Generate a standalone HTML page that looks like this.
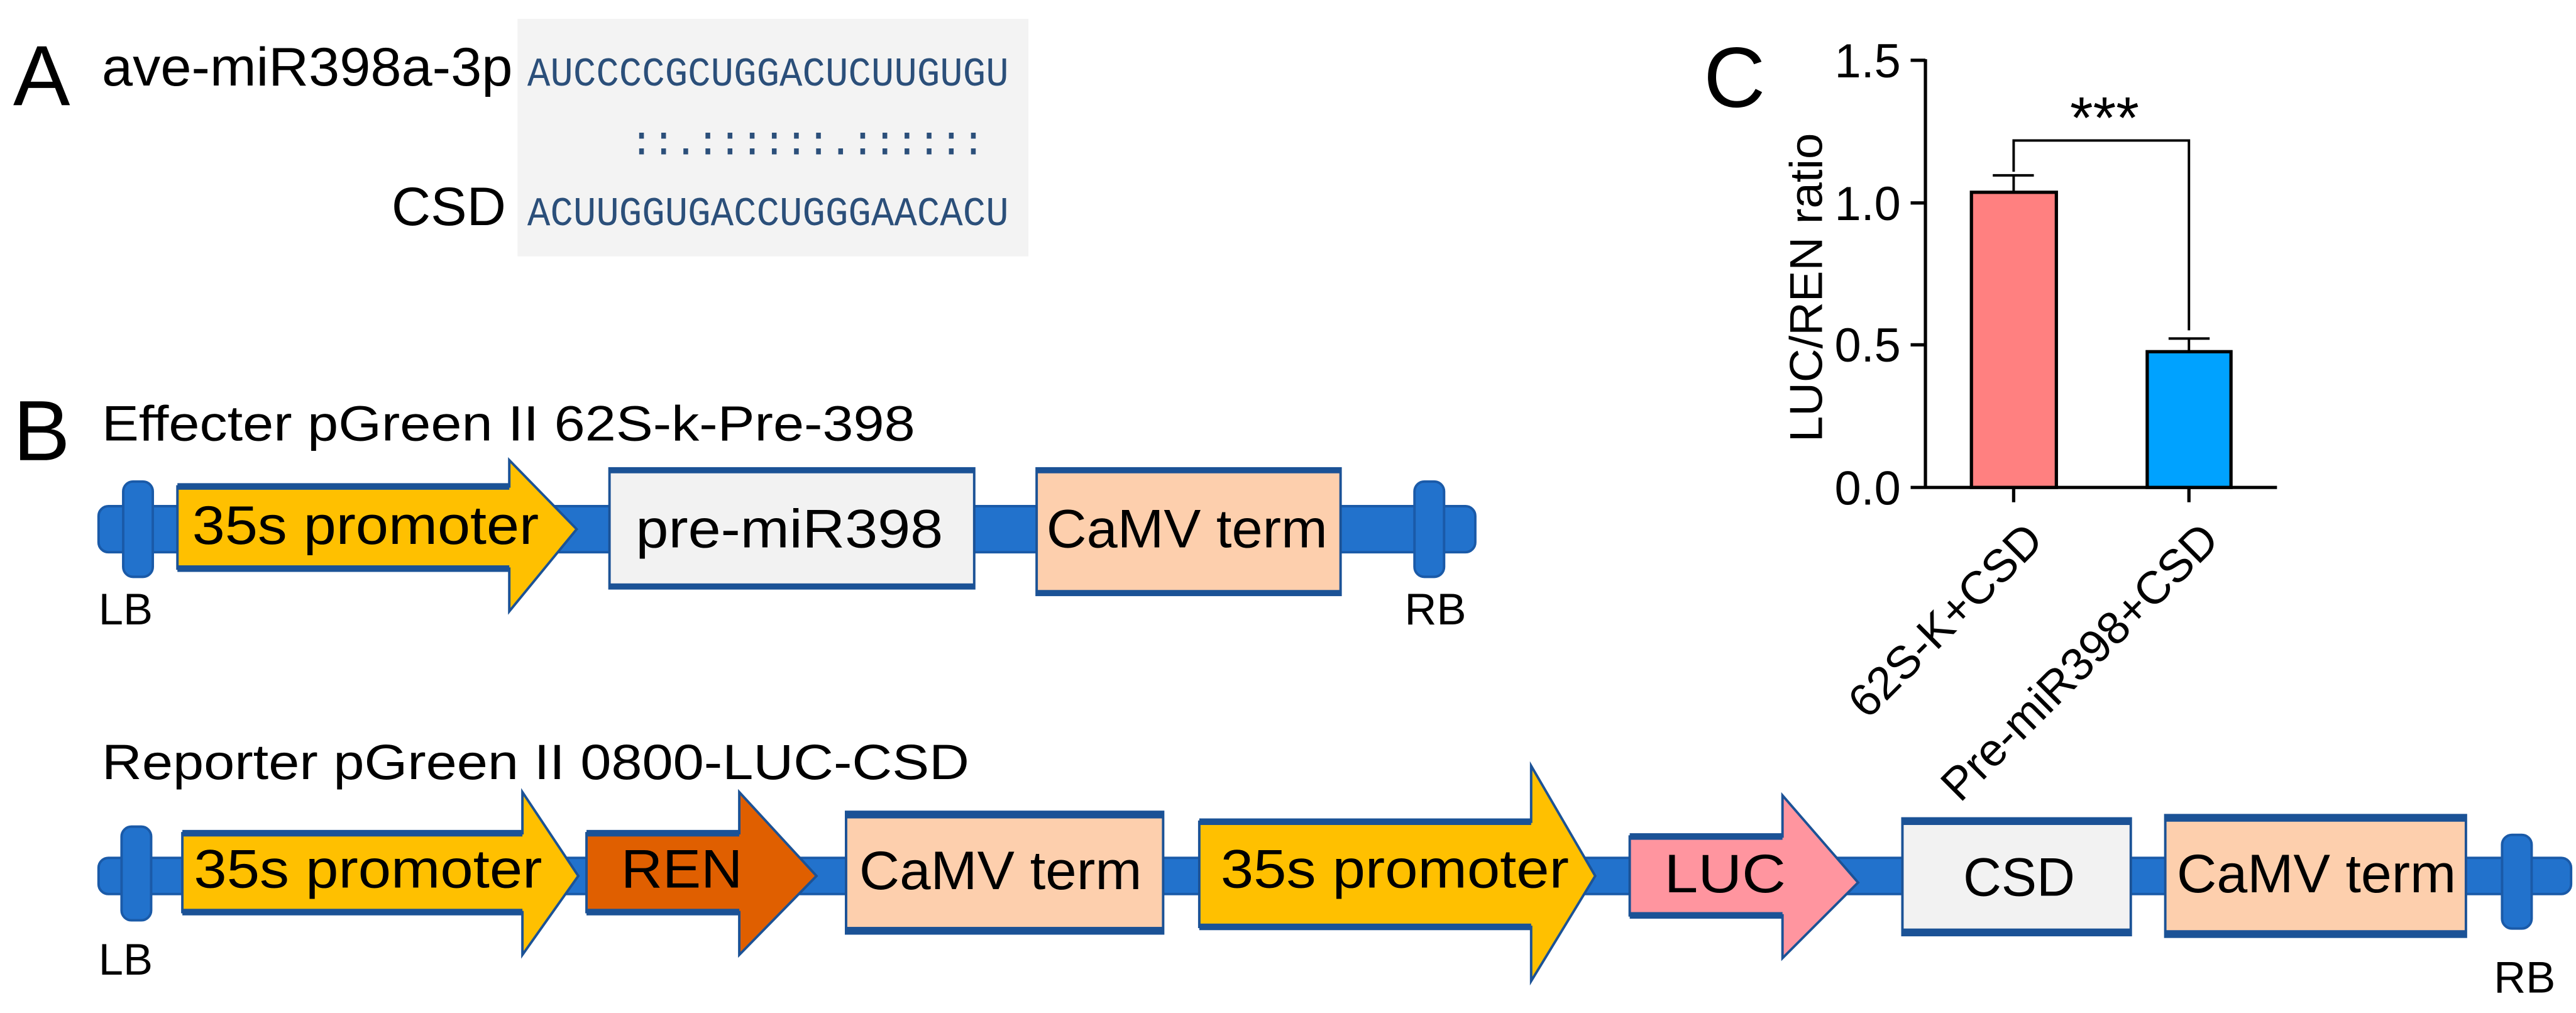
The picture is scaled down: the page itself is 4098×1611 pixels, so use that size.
<!DOCTYPE html>
<html><head><meta charset="utf-8"><style>
html,body{margin:0;padding:0;background:#fff;}
svg{display:block;}
text{font-family:"Liberation Sans",sans-serif;fill:#000;}
.seq{font-family:"Liberation Mono",monospace;font-size:25px;fill:#2b4f7a;}
</style></head><body>
<svg width="4098" height="1611" viewBox="0 0 1568 616.4" preserveAspectRatio="none" xmlns="http://www.w3.org/2000/svg">
<!-- Panel A -->
<text x="8" y="64" font-size="52">A</text>
<text x="62" y="52" font-size="33" textLength="250" lengthAdjust="spacingAndGlyphs">ave-miR398a-3p</text>
<rect x="315" y="11.5" width="311" height="144.5" fill="#f3f3f3"/>
<text class="seq" x="321" y="52" textLength="293" lengthAdjust="spacingAndGlyphs">AUCCCCGCUGGACUCUUGUGU</text>
<text class="seq" x="383" y="94" textLength="217" lengthAdjust="spacing">::.::::::.::::::</text>
<text class="seq" x="321" y="137" textLength="293" lengthAdjust="spacingAndGlyphs">ACUUGGUGACCUGGGAACACU</text>
<text x="308" y="137" font-size="33" text-anchor="end">CSD</text>

<!-- Panel B -->
<text x="8" y="280" font-size="52">B</text>
<text x="62" y="268" font-size="30" textLength="495" lengthAdjust="spacingAndGlyphs">Effecter pGreen II 62S-k-Pre-398</text>

<!-- Effector track -->
<rect x="60" y="308" width="838" height="28" rx="6" fill="#2272cc" stroke="#1a5aa8" stroke-width="1.5"/>
<rect x="75" y="293" width="18" height="58" rx="6" fill="#2272cc" stroke="#1a5aa8" stroke-width="1.5"/>
<rect x="861" y="293" width="18" height="58" rx="6" fill="#2272cc" stroke="#1a5aa8" stroke-width="1.5"/>
<polygon points="108,296 310,296 310,280 351,322 310,372 310,346 108,346" fill="#ffc000" stroke="#1b5296" stroke-width="1.5"/>
<rect x="108" y="294" width="202" height="4" fill="#1b5296"/><rect x="108" y="344" width="202" height="4" fill="#1b5296"/>
<text x="117" y="331" font-size="33" textLength="211" lengthAdjust="spacingAndGlyphs">35s promoter</text>
<rect x="371" y="285" width="222" height="73" fill="#f2f2f2" stroke="#1b5296" stroke-width="1.5"/>
<rect x="371" y="285" width="222" height="3" fill="#1b5296"/><rect x="371" y="355" width="222" height="3" fill="#1b5296"/>
<text x="387" y="333" font-size="33" textLength="187" lengthAdjust="spacingAndGlyphs">pre-miR398</text>
<rect x="631" y="285" width="185" height="77" fill="#fdcfad" stroke="#1b5296" stroke-width="1.5"/>
<rect x="631" y="285" width="185" height="3" fill="#1b5296"/><rect x="631" y="359" width="185" height="3" fill="#1b5296"/>
<text x="637" y="333" font-size="33" textLength="171" lengthAdjust="spacingAndGlyphs">CaMV term</text>
<text x="60" y="380" font-size="27">LB</text>
<text x="855" y="380" font-size="27">RB</text>

<!-- Reporter -->
<text x="62" y="474" font-size="30" textLength="528" lengthAdjust="spacingAndGlyphs">Reporter pGreen II 0800-LUC-CSD</text>
<rect x="60" y="522" width="1505" height="22" rx="6" fill="#2272cc" stroke="#1a5aa8" stroke-width="1.5"/>
<rect x="74" y="503" width="18" height="57" rx="6" fill="#2272cc" stroke="#1a5aa8" stroke-width="1.5"/>
<rect x="1523" y="508" width="18" height="57" rx="6" fill="#2272cc" stroke="#1a5aa8" stroke-width="1.5"/>
<polygon points="111,507 318,507 318,482 352,533 318,581 318,555 111,555" fill="#ffc000" stroke="#1b5296" stroke-width="1.5"/>
<rect x="111" y="505" width="207" height="4" fill="#1b5296"/><rect x="111" y="553" width="207" height="4" fill="#1b5296"/>
<text x="118" y="540" font-size="33" textLength="212" lengthAdjust="spacingAndGlyphs">35s promoter</text>
<polygon points="357,507 450,507 450,482 497,533 450,581 450,555 357,555" fill="#e05f00" stroke="#1b5296" stroke-width="1.5"/>
<rect x="357" y="505" width="93" height="4" fill="#1b5296"/><rect x="357" y="553" width="93" height="4" fill="#1b5296"/>
<text x="378" y="540" font-size="33" textLength="74" lengthAdjust="spacingAndGlyphs">REN</text>
<rect x="515" y="494" width="193" height="74" fill="#fdcfad" stroke="#1b5296" stroke-width="1.5"/>
<rect x="515" y="494" width="193" height="4" fill="#1b5296"/><rect x="515" y="564" width="193" height="4" fill="#1b5296"/>
<text x="523" y="541" font-size="33" textLength="172" lengthAdjust="spacingAndGlyphs">CaMV term</text>
<polygon points="730,500 932,500 932,466 971,533 932,597 932,564 730,564" fill="#ffc000" stroke="#1b5296" stroke-width="1.5"/>
<rect x="730" y="498" width="202" height="4" fill="#1b5296"/><rect x="730" y="562" width="202" height="4" fill="#1b5296"/>
<text x="743" y="540" font-size="33" textLength="212" lengthAdjust="spacingAndGlyphs">35s promoter</text>
<polygon points="992,509 1085,509 1085,484 1131,537 1085,583 1085,557 992,557" fill="#ff959f" stroke="#1b5296" stroke-width="1.5"/>
<rect x="992" y="507" width="93" height="4" fill="#1b5296"/><rect x="992" y="555" width="93" height="4" fill="#1b5296"/>
<text x="1013" y="543" font-size="33" textLength="74" lengthAdjust="spacingAndGlyphs">LUC</text>
<rect x="1158" y="498" width="139" height="71" fill="#f2f2f2" stroke="#1b5296" stroke-width="1.5"/>
<rect x="1158" y="498" width="139" height="4" fill="#1b5296"/><rect x="1158" y="565" width="139" height="4" fill="#1b5296"/>
<text x="1195" y="545" font-size="33" textLength="68" lengthAdjust="spacingAndGlyphs">CSD</text>
<rect x="1318" y="496" width="183" height="74" fill="#fdcfad" stroke="#1b5296" stroke-width="1.5"/>
<rect x="1318" y="496" width="183" height="4" fill="#1b5296"/><rect x="1318" y="566" width="183" height="4" fill="#1b5296"/>
<text x="1325" y="543" font-size="33" textLength="170" lengthAdjust="spacingAndGlyphs">CaMV term</text>
<text x="60" y="593" font-size="27">LB</text>
<text x="1518" y="604" font-size="27">RB</text>

<!-- Panel C -->
<text x="1037" y="65" font-size="52">C</text>
<g stroke="#000" stroke-width="2" fill="none">
<line x1="1172" y1="36" x2="1172" y2="296.6"/>
<line x1="1163" y1="296.6" x2="1386" y2="296.6"/>
<line x1="1163" y1="36.7" x2="1172" y2="36.7"/>
<line x1="1163" y1="123.5" x2="1172" y2="123.5"/>
<line x1="1163" y1="209.8" x2="1172" y2="209.8"/>
<line x1="1225.7" y1="296" x2="1225.7" y2="305.6"/>
<line x1="1332.4" y1="296" x2="1332.4" y2="305.6"/>
</g>
<rect x="1200" y="117" width="51.7" height="179.6" fill="#ff8080" stroke="#000" stroke-width="2"/>
<rect x="1307" y="214" width="51" height="82.6" fill="#00a2ff" stroke="#000" stroke-width="2"/>
<g stroke="#000" stroke-width="1.5" fill="none">
<line x1="1225.7" y1="117" x2="1225.7" y2="106.7"/>
<line x1="1213" y1="106.7" x2="1238" y2="106.7"/>
<line x1="1332.4" y1="214" x2="1332.4" y2="206"/>
<line x1="1320" y1="206" x2="1345" y2="206"/>
<polyline points="1225.7,104.5 1225.7,85.5 1332.4,85.5 1332.4,201"/>
</g>
<text x="1281" y="84" font-size="36" text-anchor="middle">***</text>
<g font-size="29" text-anchor="end">
<text x="1157" y="47">1.5</text>
<text x="1157" y="134">1.0</text>
<text x="1157" y="220">0.5</text>
<text x="1157" y="307">0.0</text>
</g>
<text transform="translate(1109,175) rotate(-90)" font-size="28" text-anchor="middle" textLength="188" lengthAdjust="spacingAndGlyphs">LUC/REN ratio</text>
<text transform="translate(1245,330) rotate(-45)" font-size="28" text-anchor="end">62S-K+CSD</text>
<text transform="translate(1352,330) rotate(-45)" font-size="28" text-anchor="end">Pre-miR398+CSD</text>
</svg>
</body></html>
